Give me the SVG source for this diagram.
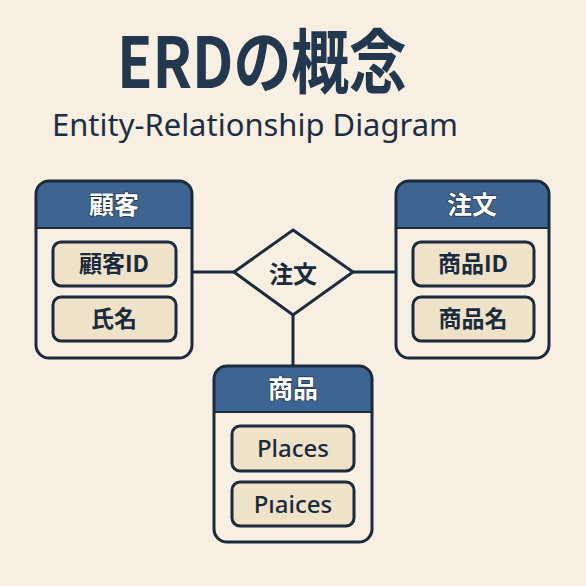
<svg xmlns="http://www.w3.org/2000/svg" width="586" height="586" viewBox="0 0 586 586">
<style>
.ent{fill:none;stroke:#1b2a3c;stroke-width:3}
.hdr{fill:#3e6592}
.attr{fill:#eee2c9;stroke:#1b2a3c;stroke-width:3}
.ht{font-family:"Noto Sans CJK JP","Noto Sans",sans-serif;font-weight:700;font-size:25px;fill:#ffffff;stroke:#1b2a3c;stroke-width:1.2;paint-order:stroke;text-anchor:middle}
.at{font-family:"Noto Sans CJK JP","Noto Sans",sans-serif;font-weight:700;font-size:23px;fill:#1b2a3c;text-anchor:middle}
.conn{stroke:#1b2a3c;stroke-width:3;fill:none}
</style>
<rect width="586" height="586" fill="#f7efe1"/>
<text x="262" y="88" font-family="'Noto Sans CJK JP','Noto Sans',sans-serif" font-weight="700" font-size="70" fill="#23384f" text-anchor="middle" textLength="290" lengthAdjust="spacingAndGlyphs">ERDの概念</text>
<text x="255" y="136" font-family="'Noto Sans','Noto Sans CJK JP',sans-serif" font-size="31" fill="#1d2e44" text-anchor="middle" textLength="406" lengthAdjust="spacingAndGlyphs">Entity-Relationship Diagram</text>
<g id="connectors">
<line class="conn" x1="192" y1="272" x2="234" y2="272"/>
<line class="conn" x1="353" y1="272" x2="396" y2="272"/>
<line class="conn" x1="293" y1="315" x2="293" y2="367"/>
</g>
<g id="customer">
<path class="hdr" d="M36,228 V194 a13,13 0 0 1 13,-13 H179 a13,13 0 0 1 13,13 V228 Z"/>
<rect class="ent" x="36" y="181" width="156" height="177" rx="13"/>
<line x1="36" y1="228" x2="192" y2="228" stroke="#1b2a3c" stroke-width="2"/>
<text class="ht" x="114" y="214">顧客</text>
<rect class="attr" x="53" y="242" width="123" height="44" rx="8"/>
<text class="at" x="114" y="272">顧客ID</text>
<rect class="attr" x="53" y="297" width="123" height="44" rx="8"/>
<text class="at" x="114" y="327">氏名</text>
</g>
<g id="order-entity">
<path class="hdr" d="M396,228 V194 a13,13 0 0 1 13,-13 H536 a13,13 0 0 1 13,13 V228 Z"/>
<rect class="ent" x="396" y="181" width="153" height="177" rx="13"/>
<line x1="396" y1="228" x2="549" y2="228" stroke="#1b2a3c" stroke-width="2"/>
<text class="ht" x="472" y="214">注文</text>
<rect class="attr" x="413" y="242" width="121" height="44" rx="8"/>
<text class="at" x="473" y="272">商品ID</text>
<rect class="attr" x="413" y="297" width="121" height="44" rx="8"/>
<text class="at" x="473" y="327">商品名</text>
</g>
<g id="order-relation">
<polygon points="293,230 353,272 293,315 234,272" fill="#f7efe1" stroke="#1b2a3c" stroke-width="3"/>
<text class="at" x="293" y="283" style="font-size:24px">注文</text>
</g>
<g id="product">
<path class="hdr" d="M214,412 V379 a13,13 0 0 1 13,-13 H359 a13,13 0 0 1 13,13 V412 Z"/>
<rect class="ent" x="214" y="366" width="158" height="176" rx="13"/>
<line x1="214" y1="412" x2="372" y2="412" stroke="#1b2a3c" stroke-width="2"/>
<text class="ht" x="293" y="398">商品</text>
<rect class="attr" x="232" y="426" width="122" height="45" rx="8"/>
<text class="at" x="293" y="457" style="font-family:'Noto Sans',sans-serif;font-weight:500;font-size:24px">Places</text>
<rect class="attr" x="232" y="482" width="122" height="44" rx="8"/>
<text class="at" x="293" y="513" style="font-family:'Noto Sans',sans-serif;font-weight:500;font-size:24px">Pıaices</text>
</g>
</svg>
